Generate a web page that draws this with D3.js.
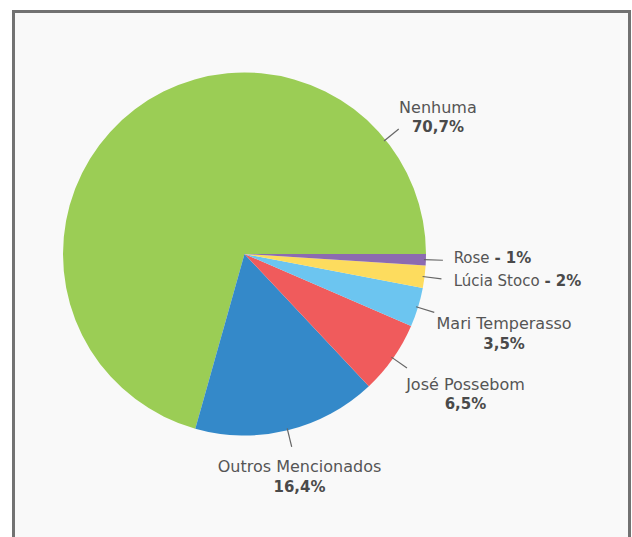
<!DOCTYPE html>
<html><head><meta charset="utf-8">
<script src="https://cdn.jsdelivr.net/npm/d3@7"></script>
<style>html,body{margin:0;padding:0;background:#fff;}svg{display:block;}</style>
</head><body>
<svg id="c" width="632" height="537"></svg>
<script>
// Data
const categories = ["Nenhuma", "Outros Mencionados", "José Possebom", "Mari Temperasso", "Lúcia Stoco", "Rose"];
const values = [70.7, 16.4, 6.5, 3.5, 2, 1];
const valueLabels = ["70,7%", "16,4%", "6,5%", "3,5%", "2%", "1%"];
const colors = ["#9bcd55", "#3489c9", "#f05b5c", "#6cc5f0", "#fddc5e", "#8c6bb1"];
// Label layout: "stack" = name above bold value, "inline" = "name - value"
const labelStyle = ["stack", "stack", "stack", "stack", "inline", "inline"];
const labelAngleDeg = [54.7, 166.1, 122.35, 107.1, 95.65, 90.9];
const labelDist = [237, 229, 261.6, 271.6, 274.3, 248];
const connectorAngleOverride = [51, null, null, null, null, null];

const svg = d3.select("#c");
svg.append("rect").attr("x", 13.5).attr("y", 11.5).attr("width", 616).attr("height", 540)
  .attr("fill", "#f9f9f9").attr("stroke", "#727272").attr("stroke-width", 3);

const cx = 244.5, cy = 254, R = 181.5;
const g = svg.append("g").attr("transform", `translate(${cx},${cy})`);

const pie = d3.pie().sort(null).value(d => d.v)
  .startAngle(Math.PI / 2).endAngle(Math.PI / 2 - 2 * Math.PI);
const data = categories.map((c, i) => ({c, v: values[i], i}));
const arcs = pie(data);
const arc = d3.arc().innerRadius(0).outerRadius(R);

g.selectAll("path.slice").data(arcs).enter().append("path")
  .attr("class", "slice")
  .attr("d", arc)
  .attr("fill", d => colors[d.data.i]);

// connectors
const toRad = a => a * Math.PI / 180;
arcs.forEach(d => {
  const i = d.data.i;
  const mid = connectorAngleOverride[i] != null ? toRad(connectorAngleOverride[i]) : (d.startAngle + d.endAngle) / 2;
  const r0 = R - 2, r1 = R + 17;
  g.append("line")
    .attr("x1", Math.sin(mid) * r0).attr("y1", -Math.cos(mid) * r0)
    .attr("x2", Math.sin(mid) * r1).attr("y2", -Math.cos(mid) * r1)
    .attr("stroke", "#666").attr("stroke-width", 1.2);
});

// labels
const font = "'DejaVu Sans', sans-serif";
arcs.forEach(d => {
  const i = d.data.i;
  const a = toRad(labelAngleDeg[i]);
  const x = Math.sin(a) * labelDist[i], y = -Math.cos(a) * labelDist[i];
  const t = g.append("text").attr("x", x).attr("text-anchor", "middle")
    .attr("font-family", font).attr("font-size", 16).attr("fill", "#555");
  if (labelStyle[i] === "stack") {
    t.append("tspan").attr("x", x).attr("y", y - 10).attr("dy", "0.35em").text(categories[i]);
    t.append("tspan").attr("x", x).attr("y", y + 10).attr("dy", "0.35em")
      .attr("font-weight", "bold").attr("font-size", 15).attr("fill", "#4a4a4a").text(valueLabels[i]);
  } else {
    t.attr("y", y).attr("dy", "0.35em").attr("font-size", 15);
    t.append("tspan").text(categories[i] + " ");
    t.append("tspan").attr("font-weight", "bold").attr("fill", "#4a4a4a").text("- " + valueLabels[i]);
  }
});
</script>
</body></html>
